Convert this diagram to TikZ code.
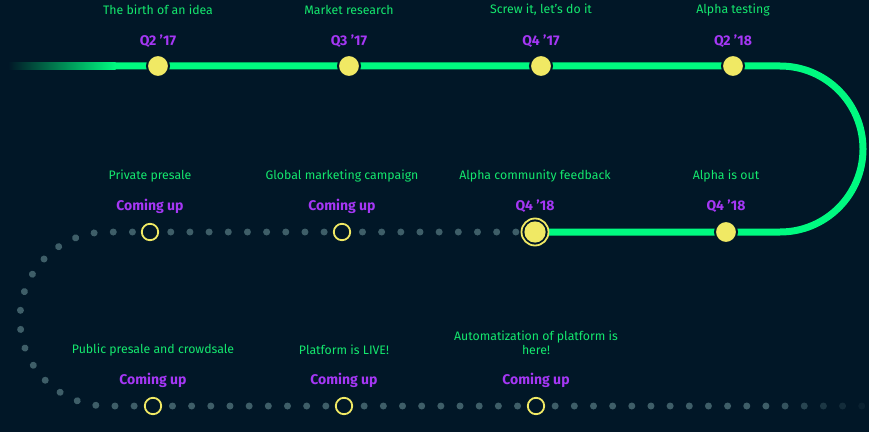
\documentclass[tikz,border=0pt]{standalone}
\usepackage{fontspec}
\usetikzlibrary{calc}
\setmainfont{Fira Sans}
\definecolor{bg}{RGB}{1,23,39}
\definecolor{track}{RGB}{0,250,128}
\definecolor{lbl}{RGB}{20,232,110}
\definecolor{qtr}{RGB}{165,55,245}
\definecolor{sun}{RGB}{240,233,100}
\definecolor{dotc}{RGB}{62,94,104}
\begin{document}
\begin{tikzpicture}[x=1pt,y=1pt,
  lab/.style={text=lbl, font=\fontsize{12.3}{14.5}\selectfont, align=center, inner sep=0pt},
  qlab/.style={text=qtr, font=\fontsize{14}{16}\selectfont\bfseries, inner sep=0pt},
  done/.style={circle, fill=sun, draw=bg, line width=2pt, minimum size=22pt, inner sep=0pt},
  nowring/.style={circle, fill=bg, draw=sun, line width=1.8pt, minimum size=27pt, inner sep=0pt},
  soon/.style={circle, fill=bg, draw=sun, line width=1.8pt, minimum size=16.4pt, inner sep=0pt},
  trackline/.style={draw=track, line width=7pt},
  dotline/.style={draw=dotc, line width=7pt, line cap=round, dash pattern=on 0.01pt off 19.16pt}]
\fill[bg] (0,0) rectangle (869,432);
\useasboundingbox (0,0) rectangle (869,432);
% coordinates
\coordinate (s0) at (115,366);
\coordinate (p1) at (158,366);
\coordinate (p2) at (349,366);
\coordinate (p3) at (541,366);
\coordinate (p4) at (733,366);
\coordinate (r1) at (780,366);
\coordinate (q4) at (726,200);
\coordinate (q3) at (535,200);
\coordinate (q2) at (342,200);
\coordinate (q1) at (150,200);
\coordinate (l1) at (107,200);
\coordinate (w1) at (153,26);
\coordinate (w2) at (344,26);
\coordinate (w3) at (536,26);
% tracks
\shade[left color=bg, right color=track] (8,362.5) rectangle (115.5,369.5);
\draw[trackline] (s0) -- (r1) arc[start angle=90, end angle=-90, radius=83] -- (q3);
\draw[dotline] (q3) -- (l1) arc[start angle=90, end angle=270, radius=87] -- (w3);
\foreach \j/\op in {1/1,2/1,3/1,4/1,5/1,6/1,7/1,8/1,9/1,10/1,11/1,12/1,13/0.85,14/0.65,15/0.45,16/0.3,17/0.15}
  \fill[dotc, opacity=\op] ($(w3)+(19.16*\j,0)$) circle (3.5);
% milestones
\node[done] (m1) at (p1) {};
\node[done] (m2) at (p2) {};
\node[done] (m3) at (p3) {};
\node[done] (m4) at (p4) {};
\node[done] (m5) at (q4) {};
\node[nowring] (m6) at (q3) {};
\fill[sun] (m6.center) circle (10.6);
\node[soon] (m7) at (q2) {};
\node[soon] (m8) at (q1) {};
\node[soon] (m9) at (w1) {};
\node[soon] (m10) at (w2) {};
\node[soon] (m11) at (w3) {};
% labels
\node[lab] (t1) at (158,422) {The birth of an idea};
\node[lab] (t2) at (349,422) {Market research};
\node[lab] (t3) at (541,422) {Screw it, let's do it};
\node[lab] (t4) at (733,422) {Alpha testing};
\node[qlab] (d1) at (158,391) {Q2 ’17};
\node[qlab] (d2) at (349,391) {Q3 ’17};
\node[qlab] (d3) at (541,391) {Q4 ’17};
\node[qlab] (d4) at (733,391) {Q2 ’18};
\node[lab] (t5) at (726,256) {Alpha is out};
\node[lab] (t6) at (535,256) {Alpha community feedback};
\node[lab] (t7) at (342,256) {Global marketing campaign};
\node[lab] (t8) at (150,256) {Private presale};
\node[qlab] (d5) at (726,226) {Q4 ’18};
\node[qlab] (d6) at (535,226) {Q4 ’18};
\node[qlab] (d7) at (342,226) {Coming up};
\node[qlab] (d8) at (150,226) {Coming up};
\node[lab] (t9) at (153,82) {Public presale and crowdsale};
\node[lab] (t10) at (344,82) {Platform is LIVE!};
\node[lab] (t11) at (536,89) {Automatization of platform is\\here!};
\node[qlab] (d9) at (153,52) {Coming up};
\node[qlab] (d10) at (344,52) {Coming up};
\node[qlab] (d11) at (536,52) {Coming up};
\end{tikzpicture}
\end{document}
